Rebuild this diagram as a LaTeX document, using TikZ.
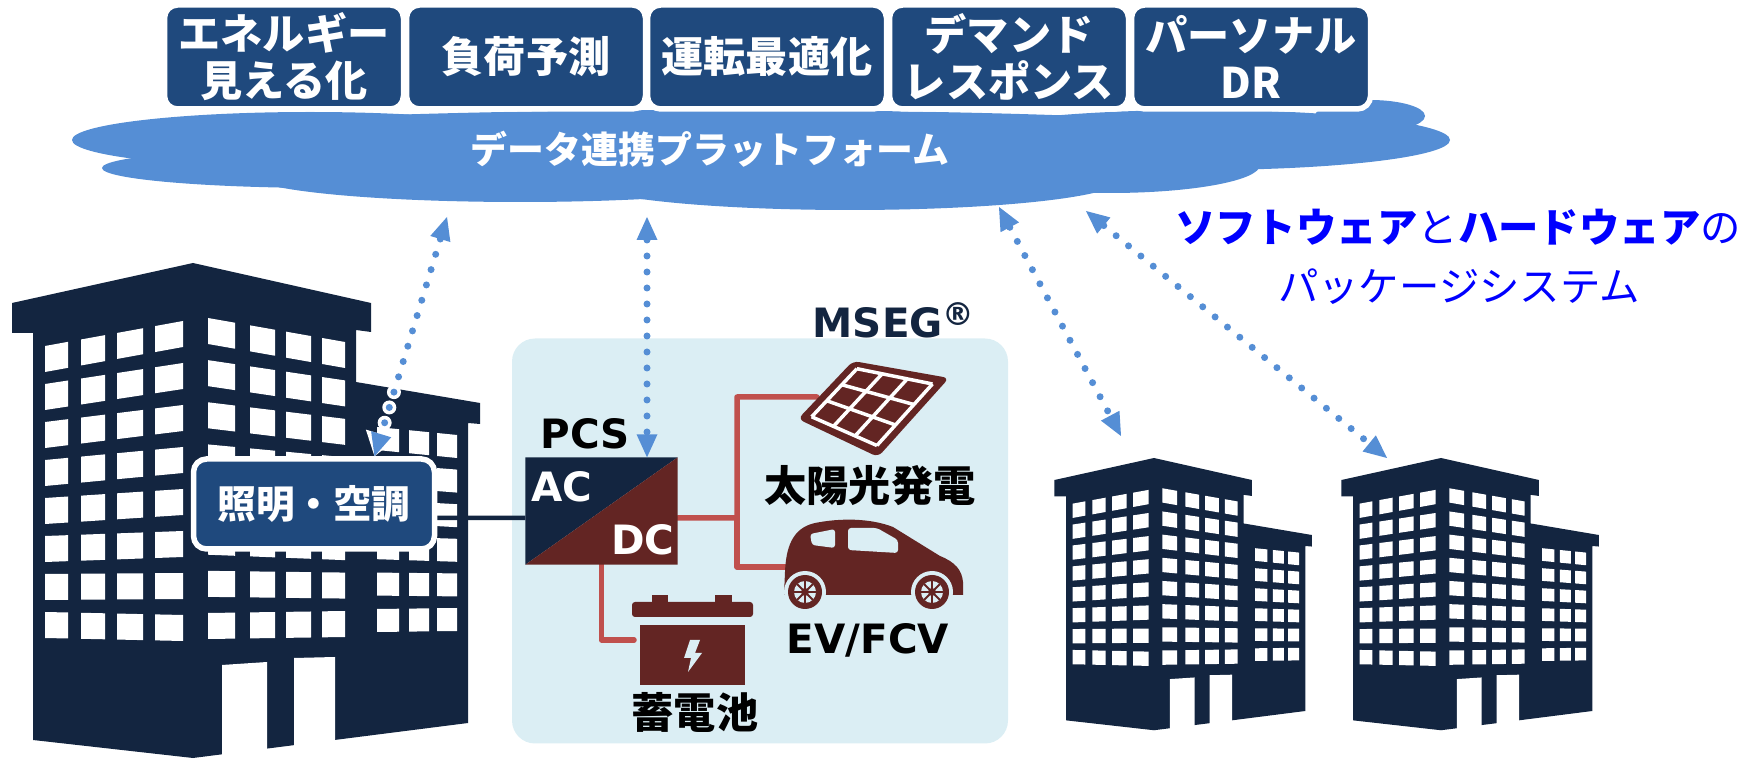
\documentclass[tikz,border=0pt]{standalone}
\usepackage{fontspec}
\setmainfont{DejaVu Sans}
\newfontfamily\jp{Noto Sans CJK JP}
\usepackage{tikz}
\usetikzlibrary{positioning}
\usetikzlibrary{calc}
\usetikzlibrary{arrows.meta}

\definecolor{bldnavy}{HTML}{132540}
\definecolor{tabblue}{HTML}{1F497D}
\definecolor{cloudblue}{HTML}{558ED5}
\definecolor{dcred}{HTML}{632523}
\definecolor{linered}{HTML}{C0504D}
\definecolor{msegbg}{HTML}{DBEEF4}

% windows of one face: columns x/w, rows-1, face x range, top row y (left,right), last row y (left,right), height
\newcommand\winface[9]{%
  \foreach \cx/\cw in {#1}{%
    \foreach \row in {0,...,#2}{%
      \pgfmathsetmacro\yl{#5+(#7-#5)*\row/#2}%
      \pgfmathsetmacro\yr{#6+(#8-#6)*\row/#2}%
      \pgfmathsetmacro\ya{\yl+(\yr-\yl)*(\cx-(#3))/((#4)-(#3))}%
      \pgfmathsetmacro\yb{\yl+(\yr-\yl)*(\cx+\cw-(#3))/((#4)-(#3))}%
      \fill [white] (\cx,\ya) -- (\cx+\cw,\yb) -- (\cx+\cw,\yb+#9) -- (\cx,\ya+#9) -- cycle;
    }%
  }%
}

\tikzset{
  building/.pic={
    \fill [bldnavy] (-181,70) -- (-181,40) -- (0,0) -- (178,40) -- (178,69) -- (163,67)
      -- (163,119) -- (287,140) -- (287,161) -- (275,160) -- (275,460) -- (0,495)
      -- (-160,477) -- (-160,70) -- cycle;
    \winface{-148/23,-112/24,-76/26,-38/28}{7}{-148}{-10}{83}{58}{349}{352}{26}
    \winface{15/27,57/25,93/25,129/23}{7}{15}{152}{55}{79}{350}{348}{26}
    \winface{184/22,216/20,244/20}{5}{184}{264}{164}{172}{346}{345}{23}
    % doors
    \fill [white] (29,402) -- (74,399) -- (74,520) -- (29,520) -- cycle;
    \fill [white] (101,395) -- (142,394) -- (142,520) -- (101,520) -- cycle;
  }
}

\begin{document}
\begin{tikzpicture}[x=0.1mm, y=-0.1mm,
    tab/.style={draw=white, line width=0.55mm, fill=tabblue, rounded corners=1.3mm,
      minimum width=23.9mm, minimum height=10.4mm, inner sep=0pt, text=white, align=center,
      font=\jp\bfseries\fontsize{12}{13.4}\selectfont},
    jptext/.style={inner sep=0pt, font=\jp\bfseries\fontsize{12}{14}\selectfont},
    latin/.style={inner sep=0pt, font=\bfseries\fontsize{11.5}{13}\selectfont},
    pkg/.style={inner sep=0pt, text=blue, font=\jp\fontsize{11.5}{13}\selectfont},
    link/.style={cloudblue, line width=0.7mm, line cap=round, dash pattern=on 0pt off 1.6mm,
      {Triangle[length=2.3mm,width=2.1mm,line width=0pt]}-{Triangle[length=2.3mm,width=2.1mm,line width=0pt]}},
    halo/.style={white, line width=1.4mm, line cap=round, dash pattern=on 0pt off 1.6mm,
      {Triangle[length=2.3mm,width=3.2mm,line width=0pt]}-{Triangle[length=2.3mm,width=3.2mm,line width=0pt]}},
    dcline/.style={linered, line width=0.55mm, line cap=round, line join=round}]

  \useasboundingbox (0,0) rectangle (1753,759);

  % cloud
  \fill [cloudblue] (310,140) ellipse (238 and 28);
  \fill [cloudblue] (330,168) ellipse (228 and 20);
  \fill [cloudblue] (520,175) ellipse (270 and 27);
  \fill [cloudblue] (850,180) ellipse (270 and 30);
  \fill [cloudblue] (1110,165) ellipse (150 and 28);
  \fill [cloudblue] (1200,140) ellipse (250 and 30);
  \fill [cloudblue] (1370,116) ellipse (55 and 16);
  \fill [cloudblue] (720,140) ellipse (600 and 30);
  \node [jptext, text=white, font=\jp\bfseries\fontsize{10.5}{12}\selectfont] (platform) at (710,149) {データ連携プラットフォーム};

  % services
  \node [tab] (vis) at (284,57) {エネルギー\\見える化};
  \node [tab] (fcst) at (526,57) {負荷予測};
  \node [tab] (opt) at (767,57) {運転最適化};
  \node [tab] (dr) at (1009,57) {デマンド\\レスポンス};
  \node [tab] (pdr) at (1251,57) {パーソナル\\DR};

  \node [pkg] (pkg1) at (1458,227) {\bfseries ソフトウェア\mdseries と\bfseries ハードウェア\mdseries の};
  \node [pkg] (pkg2) at (1459,287) {パッケージシステム};

  % buildings
  \pic at (193,263) {building};
  \pic [scale=0.55] at (1154,458) {building};
  \pic [scale=0.55] at (1441,458) {building};

  % MSEG
  \node [fill=msegbg, rounded corners=2.3mm, minimum width=49.6mm, minimum height=40.5mm] (mseg) at (760,541) {};
  \node [latin, text=bldnavy, anchor=base west] (msegname) at (812,338) {MSEG\raisebox{0.55ex}{\fontsize{9}{9}\selectfont ®}};

  \node [tab, minimum width=24.1mm, minimum height=9.0mm, font=\jp\bfseries\fontsize{11}{13}\selectfont] (light) at (314,504) {照明・空調};

  \coordinate (hub) at (737,518);
  \coordinate (pv) at (817,397);
  \coordinate (ev) at (786,567);
  \coordinate (bat) at (634,640);

  \node [minimum width=15.1mm, minimum height=10.6mm, inner sep=0pt] (pcs) at (601.5,511) {};
  \draw [bldnavy, line width=0.45mm] ([yshift=-1.4mm]light.east) -- ([yshift=-0.7mm]pcs.west);
  \draw [dcline] ([yshift=-0.7mm]pcs.east) -- (hub) |- (pv);
  \draw [dcline] (hub) |- (ev);
  \draw [dcline] (pcs.south) |- (bat);
  \fill [bldnavy] (pcs.south west) -- (pcs.north west) -- (pcs.north east) -- cycle;
  \fill [dcred] (pcs.south west) -- (pcs.north east) -- (pcs.south east) -- cycle;
  \node [latin, text=white] (ac) at (562,487) {AC};
  \node [latin, text=white] (dc) at (643,540) {DC};
  \node [latin] (pcsname) at (585,434) {PCS};

  % solar panel
  \coordinate (pvbl) at (798,419);
  \coordinate (pvbr) at (878,457);
  \coordinate (pvtr) at (949,378);
  \coordinate (pvtl) at (853,361);
  \fill [dcred, rounded corners=0.6mm] (pvbl) -- (pvbr) -- (pvtr) -- (pvtl) -- cycle;
  \foreach \s in {0.1,0.367,0.633,0.9}{
    \draw [white, line width=0.35mm] ($($(pvbl)!\s!(pvbr)$)!0.1!($(pvtl)!\s!(pvtr)$)$) -- ($($(pvbl)!\s!(pvbr)$)!0.9!($(pvtl)!\s!(pvtr)$)$);
    \draw [white, line width=0.35mm] ($($(pvbl)!0.1!(pvbr)$)!\s!($(pvtl)!0.1!(pvtr)$)$) -- ($($(pvbl)!0.9!(pvbr)$)!\s!($(pvtl)!0.9!(pvtr)$)$);
  }
  \node [jptext] (pvname) at (870,486) {太陽光発電};

  % car
  \fill [dcred] (784,595) -- (785,572) .. controls (786,548) and (792,528) .. (815,523)
    .. controls (840,518) and (870,518) .. (893,527)
    -- (940,556) .. controls (955,562) and (962,570) .. (963,582) -- (963,595) -- cycle;
  \fill [msegbg, rounded corners=0.3mm] (810,534) -- (835,529) -- (835,548) -- (812,545) -- cycle;
  \fill [msegbg, rounded corners=0.3mm] (848,528) -- (877,528) -- (898,540) -- (898,553) -- (848,550) -- cycle;
  \foreach \wx in {805,932}{
    \fill [msegbg] (\wx,592) circle (21);
    \fill [dcred] (\wx,592) circle (17);
    \fill [msegbg] (\wx,592) circle (11);
    \foreach \a in {0,45,...,315}
      \draw [dcred, line width=0.2mm] (\wx,592) -- +(\a:11);
    \fill [dcred] (\wx,592) circle (4);
  }
  \node [latin] (evname) at (868,640) {EV/FCV};

  % battery
  \fill [dcred, rounded corners=0.3mm] (632,602) rectangle (753,617);
  \fill [dcred] (652,595) rectangle (668,604);
  \fill [dcred] (715,595) rectangle (732,604);
  \fill [dcred] (640,625) rectangle (745,685);
  \fill [msegbg] (690,640) -- (700,640) -- (695,653) -- (702,653) -- (688,672) -- (691,658) -- (684,658) -- cycle;
  \node [jptext] (batname) at (695,712) {蓄電池};

  % data links
  \coordinate (up1) at (447,217);
  \coordinate (up2) at (647,217);
  \coordinate (up3) at (999,207);
  \coordinate (up4) at (1086,211);
  \coordinate (bld2) at (1121,436);
  \coordinate (bld3) at (1387,458);
  \draw [halo] (up1) -- ([xshift=6.05mm]light.north);
  \draw [link] (up1) -- ([xshift=6.05mm]light.north);
  \draw [link] (up2) -- ([xshift=4.55mm]pcs.north);
  \draw [link] (up3) -- (bld2);
  \draw [link] (up4) -- (bld3);

\end{tikzpicture}
\end{document}
